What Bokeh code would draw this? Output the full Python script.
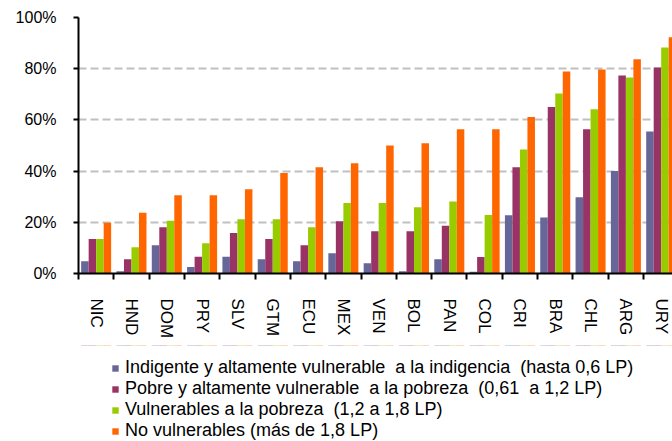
from bokeh.plotting import figure
from bokeh.layouts import column
from bokeh.models import (Range1d, FixedTicker, PrintfTickFormatter, Legend, LegendItem,
                          ColumnDataSource)
from bokeh.embed import file_html
from bokeh.resources import INLINE

countries = ["NIC", "HND", "DOM", "PRY", "SLV", "GTM", "ECU", "MEX", "VEN",
             "BOL", "PAN", "COL", "CRI", "BRA", "CHL", "ARG", "URY"]
indigente = [4.8, 0.9, 11.0, 2.5, 6.5, 5.6, 4.8, 7.9, 4.0, 0.9, 5.6, 0.7, 22.8, 21.9, 29.8, 40.0, 55.5]
pobre = [13.5, 5.6, 18.1, 6.5, 15.8, 13.5, 11.0, 20.4, 16.5, 16.5, 18.7, 6.4, 41.5, 65.0, 56.3, 77.3, 80.5]
vulnerables = [13.5, 10.3, 20.6, 11.8, 21.2, 21.2, 18.1, 27.5, 27.5, 25.9, 28.1, 22.9, 48.4, 70.3, 64.2, 76.6, 88.3]
no_vulnerables = [19.8, 23.7, 30.6, 30.6, 32.9, 39.3, 41.5, 43.1, 50.0, 50.9, 56.3, 56.3, 61.1, 78.9, 79.7, 83.7, 92.3]

series = [
    ("Indigente y altamente vulnerable  a la indigencia  (hasta 0,6 LP)", indigente, "#666699"),
    ("Pobre y altamente vulnerable  a la pobreza  (0,61  a 1,2 LP)", pobre, "#993366"),
    ("Vulnerables a la pobreza  (1,2 a 1,8 LP)", vulnerables, "#99CC00"),
    ("No vulnerables (más de 1,8 LP)", no_vulnerables, "#FF6600"),
]
y_ticks = [0, 20, 40, 60, 80, 100]

n = len(countries)
centers = [i + 0.5 for i in range(n)]
bw = 0.2125

p = figure(width=672, height=345, output_backend="svg", toolbar_location=None,
           x_range=Range1d(0, 16.82), y_range=Range1d(0, 100),
           min_border_left=78, min_border_right=0, min_border_top=17, min_border_bottom=72)
p.outline_line_color = None
p.background_fill_color = "white"
p.border_fill_color = "white"

# legend-only panel (bars drawn out of view there, only the legend shows)
p2 = figure(width=672, height=96, output_backend="svg", toolbar_location=None,
            x_range=Range1d(0, 16.82), y_range=Range1d(-2, -1),
            x_axis_location=None, y_axis_location=None,
            min_border_left=0, min_border_right=0, min_border_top=0, min_border_bottom=0)
p2.outline_line_color = None
p2.xgrid.grid_line_color = None
p2.ygrid.grid_line_color = None

items = []
for k, (label, vals, color) in enumerate(series):
    off = (k - 1.5) * bw
    src = ColumnDataSource(dict(x=[c + off for c in centers], top=vals))
    p.vbar(x="x", top="top", width=bw, bottom=0, source=src,
           fill_color=color, line_color=None)
    r2 = p2.vbar(x="x", top="top", width=bw, bottom=0, source=src,
                 fill_color=color, line_color=None)
    items.append(LegendItem(label=label, renderers=[r2]))

# y axis
p.yaxis.ticker = FixedTicker(ticks=y_ticks)
p.yaxis.formatter = PrintfTickFormatter(format="%d%%")
p.yaxis.axis_line_color = "black"
p.yaxis.axis_line_width = 2
p.yaxis.major_tick_line_width = 2
p.yaxis.major_tick_out = 5
p.yaxis.major_tick_in = 0
p.yaxis.minor_tick_line_color = None
p.yaxis.major_label_standoff = 17
p.yaxis.major_label_text_font = "Liberation Sans"
p.yaxis.major_label_text_font_size = "16px"
p.yaxis.major_label_text_color = "black"

# x axis
p.xaxis.ticker = FixedTicker(ticks=centers, minor_ticks=list(range(n + 1)))
p.xaxis.major_label_overrides = {c: name for c, name in zip(centers, countries)}
p.xaxis.major_label_orientation = "vertical"
p.xaxis.axis_line_color = "black"
p.xaxis.axis_line_width = 2
p.xaxis.major_tick_line_color = None
p.xaxis.major_tick_out = 0
p.xaxis.major_tick_in = 0
p.xaxis.minor_tick_line_color = "black"
p.xaxis.minor_tick_line_width = 2
p.xaxis.minor_tick_out = 6
p.xaxis.minor_tick_in = 0
p.xaxis.major_label_standoff = 19
p.xaxis.major_label_text_font = "Liberation Sans"
p.xaxis.major_label_text_font_size = "17px"
p.xaxis.major_label_text_color = "black"

# grid
p.xgrid.grid_line_color = None
p.ygrid.ticker = FixedTicker(ticks=y_ticks[1:])
p.ygrid.grid_line_color = "#C0C0C0"
p.ygrid.grid_line_width = 2
p.ygrid.grid_line_dash = "8 4"

legend = Legend(items=items, location=(33, 0), orientation="vertical",
                glyph_width=8, glyph_height=8, label_standoff=6,
                label_height=18, spacing=0, padding=0, margin=0,
                label_text_font="Liberation Sans", label_text_font_size="18px",
                label_text_color="black", border_line_color=None,
                background_fill_alpha=0)
p2.add_layout(legend, "center")

layout = column(p, p2, spacing=0)
open("out.html", "w").write(file_html(layout, INLINE))
